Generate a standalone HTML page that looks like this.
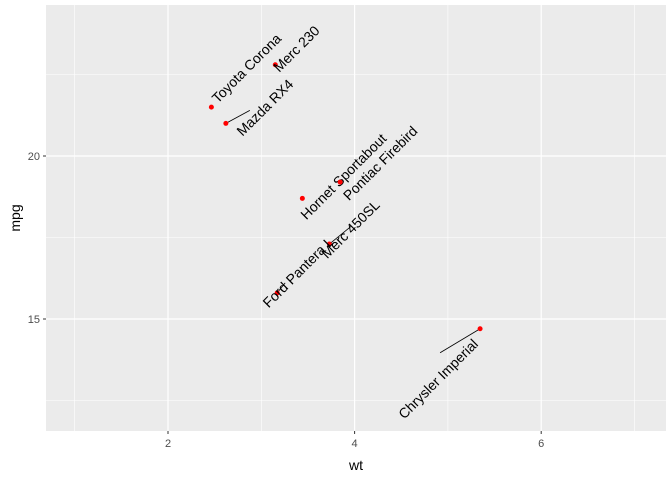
<!DOCTYPE html>
<html><head><meta charset="utf-8"><style>
body{margin:0;background:#fff;font-family:"Liberation Sans",sans-serif}
</style></head><body>
<svg id="c" width="672" height="480" xmlns="http://www.w3.org/2000/svg" font-family="Liberation Sans, sans-serif"></svg>
<script>
const names=["Mazda RX4","Toyota Corona","Merc 230","Hornet Sportabout","Pontiac Firebird","Merc 450SL","Ford Pantera L","Chrysler Imperial"];
const wt=[2.62,2.465,3.15,3.44,3.845,3.73,3.17,5.345];
const mpg=[21,21.5,22.8,18.7,19.2,17.3,15.8,14.7];
const xTicks=[2,4,6];
const yTicks=[15,20];
const xMinor=[1,3,5,7];
const yMinor=[12.5,17.5,22.5];
// label placement offsets (pixels from point)
const ldx=[39,35,21,41,40,21,21,-42];
const ldy=[-16,-39,-16,-22,-19,-15,-21,50];
const sdx=[24,0,0,0,0,22,8,-40];
const sdy=[-13,0,0,0,0,-18,-10,24];
const svg=document.getElementById('c');
const NS="http://www.w3.org/2000/svg";
const L=46,R=666,T=5,B=431;
const x=v=>168+(v-2)*93.3;
const y=v=>156-(v-20)*32.6;
function mk(t,a,p){const e=document.createElementNS(NS,t);for(const k in a)e.setAttribute(k,a[k]);(p||svg).appendChild(e);return e;}
const bg=mk('rect',{x:L,y:T,width:R-L,height:B-T,fill:'#ebebeb'});


xMinor.forEach(v=>{const l=mk('line',{x1:x(v),x2:x(v),y1:T,y2:B,stroke:'#fff','stroke-width':0.6});

});
yMinor.forEach(v=>{const l=mk('line',{x1:L,x2:R,y1:y(v),y2:y(v),stroke:'#fff','stroke-width':0.6});

});
xTicks.forEach(v=>{const l=mk('line',{x1:x(v),x2:x(v),y1:T,y2:B,stroke:'#fff','stroke-width':1.2});


mk('line',{x1:x(v),x2:x(v),y1:B,y2:B+3,stroke:'#333'});
const t=mk('text',{x:x(v),y:B+16,'text-anchor':'middle','font-size':11,fill:'#4d4d4d'});t.textContent=v;

});
yTicks.forEach(v=>{const l=mk('line',{x1:L,x2:R,y1:y(v),y2:y(v),stroke:'#fff','stroke-width':1.2});


mk('line',{x1:L-3,x2:L,y1:y(v),y2:y(v),stroke:'#333'});
const t=mk('text',{x:L-6,y:y(v)+4,'text-anchor':'end','font-size':11,fill:'#4d4d4d'});t.textContent=v;

});
names.forEach((n,i)=>{
 const px=x(wt[i]),py=y(mpg[i]);
 const cx=px+ldx[i],cy=py+ldy[i];
 if(sdx[i]||sdy[i]){
  const s=mk('line',{x1:px,y1:py,x2:px+sdx[i],y2:py+sdy[i],stroke:'#000','stroke-width':0.8});
  
  
 }
 const c=mk('circle',{cx:px,cy:py,r:2.5,fill:'red'});
 
 
 const t=mk('text',{x:cx,y:cy+5,'text-anchor':'middle','font-size':14,fill:'#000',transform:`rotate(-45 ${cx} ${cy})`});
 t.textContent=n;
 
 
});
const xt=mk('text',{x:(L+R)/2,y:470,'text-anchor':'middle','font-size':14,fill:'#000'});xt.textContent='wt';


const yt=mk('text',{x:20,y:(T+B)/2,'text-anchor':'middle','font-size':14,fill:'#000',transform:`rotate(-90 20 ${(T+B)/2})`});yt.textContent='mpg';


</script>
</body></html>
